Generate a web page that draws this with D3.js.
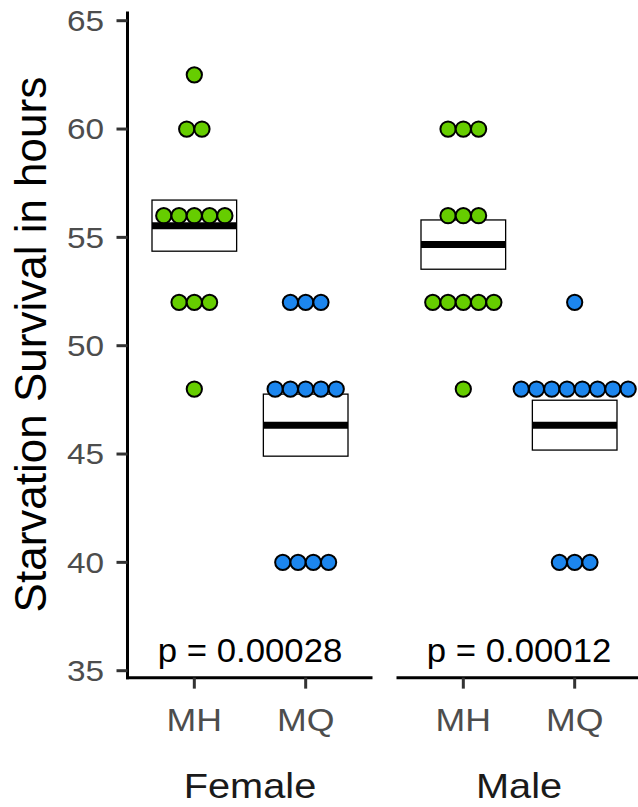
<!DOCTYPE html>
<html>
<head>
<meta charset="utf-8">
<script src="https://cdn.jsdelivr.net/npm/d3@7"></script>
<style>
  html, body { margin: 0; padding: 0; background: #fff; }
  svg { display: block; }
  text { font-family: "Liberation Sans", Arial, Helvetica, sans-serif; }
</style>
</head>
<body>
<svg id="chart" width="638" height="807"></svg>
<script>
// ---- data ----
const sexes = ["Female", "Male"];
const lines = ["MH", "MQ"];
const femaleMH = [62.5, 60, 60, 56, 56, 56, 56, 56, 52, 52, 52, 48];
const femaleMQ = [52, 52, 52, 48, 48, 48, 48, 48, 40, 40, 40, 40];
const maleMH = [60, 60, 60, 56, 56, 56, 52, 52, 52, 52, 52, 48];
const maleMQ = [52, 48, 48, 48, 48, 48, 48, 48, 48, 40, 40, 40];
const pValues = ["p = 0.00028", "p = 0.00012"];
const yTicks = [35, 40, 45, 50, 55, 60, 65];
const lineColors = ["#66CD00", "#1C86EE"];
const yTitle = "Starvation Survival in hours";

const groups = {
  Female: { MH: femaleMH, MQ: femaleMQ },
  Male: { MH: maleMH, MQ: maleMQ }
};

// ---- layout ----
const svg = d3.select("#chart");
const panelLeft = 127.5, panelWidth = 245, panelGap = 24;
const y = d3.scaleLinear().domain([35, 65]).range([670.7, 20.7]);
const panelTop = y(65.42), panelBottom = y(34.68);
const binwidth = 0.705;               // dot diameter in data units
const dotR = (y(0) - y(binwidth)) / 2;
const color = d3.scaleOrdinal().domain(lines).range(lineColors);
const crossWidth = 0.76;

// horizontal text with a slight horizontal stretch (to match reference glyph widths)
function stext(parent, x, yy, str, size, fill, anchor, sx) {
  return parent.append("text")
    .attr("transform", `translate(${x},${yy}) scale(${sx},1)`)
    .attr("text-anchor", anchor)
    .attr("font-size", size).attr("fill", fill)
    .text(str);
}

sexes.forEach((sex, i) => {
  const x0 = panelLeft + i * (panelWidth + panelGap);
  const x = d3.scalePoint().domain(lines).range([x0, x0 + panelWidth]).padding(0.6);
  const step = x.step();
  const g = svg.append("g");

  // crossbars: mean ± se
  lines.forEach(l => {
    const vals = groups[sex][l];
    const m = d3.mean(vals);
    const se = d3.deviation(vals) / Math.sqrt(vals.length);
    const w = step * crossWidth;
    g.append("rect")
      .attr("x", x(l) - w / 2).attr("width", w)
      .attr("y", y(m + se)).attr("height", y(m - se) - y(m + se))
      .attr("fill", "#fff").attr("stroke", "#000").attr("stroke-width", 1.3);
    g.append("line")
      .attr("x1", x(l) - w / 2).attr("x2", x(l) + w / 2)
      .attr("y1", y(m)).attr("y2", y(m))
      .attr("stroke", "#000").attr("stroke-width", 7);
  });

  // dots (centered stacks)
  lines.forEach(l => {
    const vals = groups[sex][l];
    const counts = d3.rollups(vals, v => v.length, d => d);
    counts.forEach(([val, n]) => {
      for (let k = 0; k < n; k++) {
        g.append("circle")
          .attr("cx", x(l) + (k - (n - 1) / 2) * dotR * 2)
          .attr("cy", y(val))
          .attr("r", dotR)
          .attr("fill", color(l))
          .attr("stroke", "#000").attr("stroke-width", 2);
      }
    });
  });

  // p-value
  stext(g, x0 + panelWidth / 2, 662, pValues[i], 32.5, "#000", "middle", 1.07);

  // x axis line
  g.append("line")
    .attr("x1", x0 - (i === 0 ? 1.5 : 0)).attr("x2", x0 + panelWidth)
    .attr("y1", panelBottom).attr("y2", panelBottom)
    .attr("stroke", "#000").attr("stroke-width", 3);

  // x ticks & labels
  lines.forEach(l => {
    g.append("line")
      .attr("x1", x(l)).attr("x2", x(l))
      .attr("y1", panelBottom).attr("y2", panelBottom + 11)
      .attr("stroke", "#333").attr("stroke-width", 3);
    stext(g, x(l), 731, l, 31, "#4D4D4D", "middle", 1.15);
  });

  // strip label (bottom)
  stext(g, x0 + panelWidth / 2, 798, sex, 35.5, "#1A1A1A", "middle", 1.12);
});

// y axis (left panel only)
const ya = svg.append("g");
ya.append("line")
  .attr("x1", panelLeft).attr("x2", panelLeft)
  .attr("y1", panelTop).attr("y2", panelBottom + 1.5)
  .attr("stroke", "#000").attr("stroke-width", 3);
yTicks.forEach(t => {
  ya.append("line")
    .attr("x1", panelLeft - 11).attr("x2", panelLeft)
    .attr("y1", y(t)).attr("y2", y(t))
    .attr("stroke", "#333").attr("stroke-width", 3);
  stext(ya, 104, y(t) + 0.358 * 29, t, 29, "#4D4D4D", "end", 1.15);
});

// y title
svg.append("text")
  .attr("transform", `translate(46,${(panelTop + panelBottom) / 2}) rotate(-90)`)
  .attr("text-anchor", "middle")
  .attr("font-size", 44).attr("fill", "#000")
  .text(yTitle);
</script>
</body>
</html>
